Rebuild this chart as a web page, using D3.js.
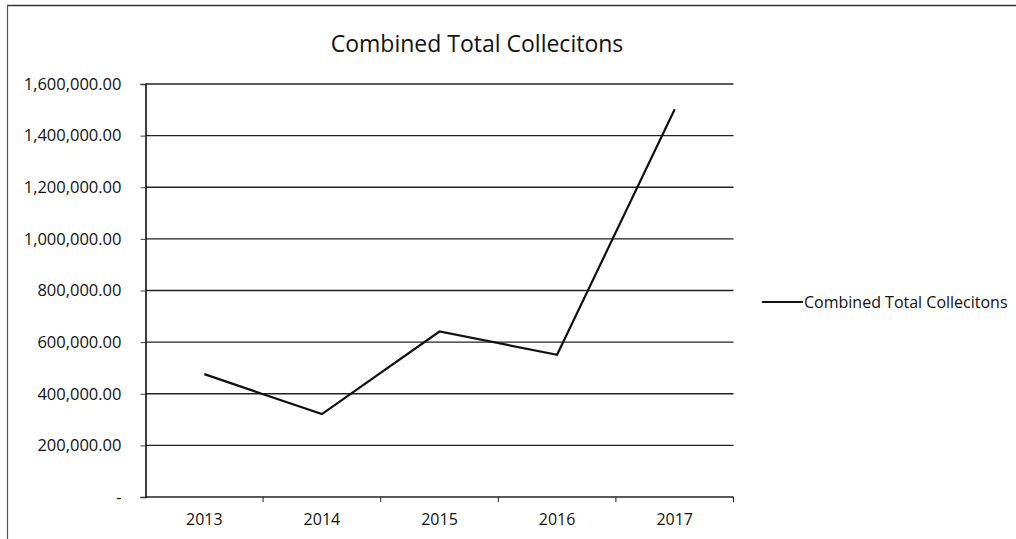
<!DOCTYPE html>
<html>
<head>
<meta charset="utf-8">
<script src="https://cdn.jsdelivr.net/npm/d3@7"></script>
<style>
  body { margin: 0; background: #fff; }
  text { font-family: "Open Sans", "Noto Sans", sans-serif; fill: #111; }
</style>
</head>
<body>
<svg width="1016" height="539"></svg>
<script>
// values
const years = ["2013", "2014", "2015", "2016", "2017"];
const totals = [476000, 321000, 641000, 551000, 1502000];
const yTicks = [0, 200000, 400000, 600000, 800000, 1000000, 1200000, 1400000, 1600000];
const seriesName = "Combined Total Collecitons";

const svg = d3.select("svg");

const margin = { left: 145.5, right: 733.5, top: 84, bottom: 497 };

const x = d3.scaleBand().domain(years).range([margin.left, margin.right]);
const y = d3.scaleLinear().domain([0, 1600000]).range([margin.bottom, margin.top]);

const fmt = d3.format(",.2f");

// outer frame (only top + left show in the scan)
svg.append("line").attr("x1", 7).attr("x2", 1016).attr("y1", 5.5).attr("y2", 5.5)
  .attr("stroke", "#333").attr("stroke-width", 1.5);
svg.append("line").attr("x1", 7.5).attr("x2", 7.5).attr("y1", 5).attr("y2", 539)
  .attr("stroke", "#555").attr("stroke-width", 1.2);

// title
svg.append("text")
  .attr("x", 477).attr("y", 52)
  .attr("text-anchor", "middle")
  .style("font-size", "23px")
  .text(seriesName);

// gridlines
svg.append("g")
  .selectAll("line")
  .data(yTicks)
  .join("line")
  .attr("x1", margin.left).attr("x2", margin.right)
  .attr("y1", d => y(d)).attr("y2", d => y(d))
  .attr("stroke", "#222").attr("stroke-width", 1.3);

// y axis
const yAxis = d3.axisLeft(y)
  .tickValues(yTicks)
  .tickSize(5)
  .tickPadding(19)
  .tickFormat(d => d === 0 ? "-" : fmt(d));

const gy = svg.append("g")
  .attr("transform", `translate(${margin.left},0)`)
  .call(yAxis);
gy.select(".domain").attr("stroke", "#111").attr("stroke-width", 1.6);
gy.selectAll(".tick line").attr("stroke", "#444");
gy.selectAll(".tick text").style("font-size", "16.5px");

// x axis with ticks between categories
const gx = svg.append("g")
  .attr("transform", `translate(0,${margin.bottom})`)
  .call(d3.axisBottom(x).tickSize(0).tickPadding(17));
gx.select(".domain").remove();
gx.selectAll(".tick text").style("font-size", "16px");

svg.append("g")
  .selectAll("line")
  .data(years.slice(1).concat(["end"]))
  .join("line")
  .attr("x1", (d, i) => i < years.length - 1 ? x(d) : margin.right)
  .attr("x2", (d, i) => i < years.length - 1 ? x(d) : margin.right)
  .attr("y1", margin.bottom).attr("y2", margin.bottom + 5)
  .attr("stroke", "#222");

// data line
const line = d3.line()
  .x((d, i) => x(years[i]) + x.bandwidth() / 2)
  .y(d => y(d));

svg.append("path")
  .datum(totals)
  .attr("fill", "none")
  .attr("stroke", "#111")
  .attr("stroke-width", 2.2)
  .attr("d", line);

// legend
svg.append("line")
  .attr("x1", 762).attr("x2", 803).attr("y1", 302).attr("y2", 302)
  .attr("stroke", "#111").attr("stroke-width", 2);
svg.append("text")
  .attr("x", 804).attr("y", 307.5)
  .style("font-size", "16px")
  .text(seriesName);
</script>
</body>
</html>
